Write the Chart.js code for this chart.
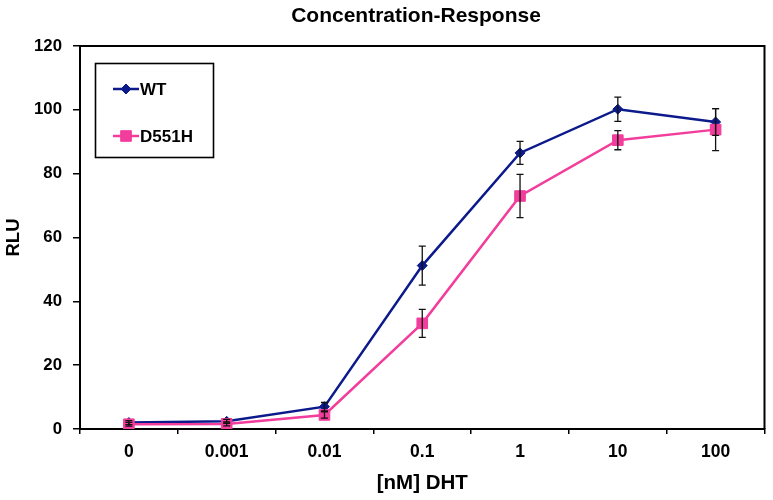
<!DOCTYPE html>
<html>
<head>
<meta charset="utf-8">
<script src="https://cdn.jsdelivr.net/npm/chart.js@4.4.1/dist/chart.umd.min.js"></script>
<style>
html,body{margin:0;padding:0;background:#fff;}
#wrap{width:773px;height:500px;position:relative;}
</style>
</head>
<body>
<div id="wrap"><canvas id="c" width="773" height="500"></canvas></div>
<script>
const categories = ['0', '0.001', '0.01', '0.1', '1', '10', '100'];
const wtValues = [2.0, 2.4, 7.0, 51.2, 86.5, 100.2, 96.2];
const wtErrors = [0.6, 0.6, 1.3, 6.1, 3.6, 3.8, 4.2];
const d551hValues = [1.5, 1.6, 4.4, 33.1, 73.0, 90.5, 93.8];
const d551hErrors = [0.6, 0.6, 1.0, 4.4, 6.8, 3.0, 6.6];
const yTicks = [0, 20, 40, 60, 80, 100, 120];
const chartTitle = 'Concentration-Response';

const FONT = 'Liberation Sans, Arial, Helvetica, sans-serif';
const WT_COLOR = '#0c1a8c';
const MUT_COLOR = '#f23d9c';

const errorBars = {
  id: 'errorBars',
  afterDatasetsDraw(chart) {
    const ctx = chart.ctx;
    const y = chart.scales.y;
    ctx.save();
    ctx.strokeStyle = '#111';
    ctx.lineWidth = 1.3;
    chart.data.datasets.forEach((ds, i) => {
      const meta = chart.getDatasetMeta(i);
      meta.data.forEach((pt, j) => {
        const v = ds.data[j], e = ds.errors[j];
        const x = pt.x;
        const yt = y.getPixelForValue(v + e);
        const yb = y.getPixelForValue(v - e);
        ctx.beginPath();
        ctx.moveTo(x, yt); ctx.lineTo(x, yb);
        ctx.moveTo(x - 3.5, yt); ctx.lineTo(x + 3.5, yt);
        ctx.moveTo(x - 3.5, yb); ctx.lineTo(x + 3.5, yb);
        ctx.stroke();
      });
    });
    ctx.restore();
  }
};

const frameAndLegend = {
  id: 'frameAndLegend',
  afterDraw(chart) {
    const ctx = chart.ctx;
    const a = chart.chartArea;
    ctx.save();
    // title
    ctx.fillStyle = '#000';
    ctx.font = 'bold 21px ' + FONT;
    ctx.textAlign = 'center';
    ctx.textBaseline = 'alphabetic';
    ctx.fillText(chartTitle, 416, 22);
    // frame
    ctx.strokeStyle = '#000';
    ctx.lineWidth = 2;
    ctx.beginPath();
    ctx.moveTo(a.left, a.top); ctx.lineTo(a.right, a.top); ctx.lineTo(a.right, a.bottom);
    ctx.stroke();
    // legend box
    ctx.lineWidth = 1.6;
    ctx.strokeRect(95.5, 63.5, 118, 94);
    const entries = [
      {ds: chart.data.datasets[0], y: 89},
      {ds: chart.data.datasets[1], y: 136}
    ];
    entries.forEach(en => {
      const ds = en.ds;
      ctx.strokeStyle = ds.borderColor;
      ctx.lineWidth = 2.5;
      ctx.beginPath();
      ctx.moveTo(113, en.y); ctx.lineTo(139, en.y);
      ctx.stroke();
      ctx.fillStyle = ds.pointBackgroundColor;
      ctx.strokeStyle = ds.pointBorderColor;
      ctx.lineWidth = 1;
      Chart.helpers.drawPoint(ctx, {pointStyle: ds.pointStyle, radius: ds.pointRadius, borderWidth: 1}, 126, en.y);
      ctx.fillStyle = '#000';
      ctx.font = 'bold 17px ' + FONT;
      ctx.textAlign = 'left';
      ctx.textBaseline = 'middle';
      ctx.fillText(ds.label, 140, en.y + 1);
    });
    ctx.restore();
  }
};

new Chart(document.getElementById('c'), {
  type: 'line',
  data: {
    labels: categories,
    datasets: [
      {
        label: 'WT', data: wtValues, errors: wtErrors,
        borderColor: WT_COLOR, backgroundColor: WT_COLOR,
        pointBackgroundColor: WT_COLOR, pointBorderColor: WT_COLOR,
        pointStyle: 'rectRot', pointRadius: 5, pointBorderWidth: 1,
        borderWidth: 2.5, tension: 0, order: 1
      },
      {
        label: 'D551H', data: d551hValues, errors: d551hErrors,
        borderColor: MUT_COLOR, backgroundColor: MUT_COLOR,
        pointBackgroundColor: MUT_COLOR, pointBorderColor: MUT_COLOR,
        pointStyle: 'rect', pointRadius: 7.5, pointBorderWidth: 1,
        borderWidth: 2.5, tension: 0, order: 0
      }
    ]
  },
  options: {
    responsive: false,
    animation: false,
    layout: {padding: {left: 0, right: 7, top: 46, bottom: 0}},
    plugins: {
      legend: {display: false},
      tooltip: {enabled: false},
      title: {display: false}
    },
    scales: {
      x: {
        type: 'category', offset: true,
        grid: {offset: true, drawOnChartArea: false, drawTicks: true, tickLength: 5, color: '#000', lineWidth: 1.5},
        border: {color: '#000', width: 2},
        ticks: {color: '#000', font: {family: FONT, size: 17.5, weight: 'bold'}, padding: 8, maxRotation: 0},
        title: {display: true, text: '[nM] DHT', color: '#000', font: {family: FONT, size: 20.5, weight: 'bold'}, padding: {top: 0, bottom: 4}},
        afterFit(s) { s.height = 71; }
      },
      y: {
        min: 0, max: 120,
        afterBuildTicks(s) { s.ticks = yTicks.map(v => ({value: v})); },
        grid: {drawOnChartArea: false, drawTicks: true, tickLength: 7, color: '#000', lineWidth: 1.5},
        border: {color: '#000', width: 2},
        ticks: {color: '#000', font: {family: FONT, size: 16.8, weight: 'bold'}, padding: 11},
        title: {display: true, text: 'RLU', color: '#000', font: {family: FONT, size: 18.5, weight: 'bold'}, padding: {top: 3, bottom: 0}},
        afterFit(s) { s.width = 80; }
      }
    }
  },
  plugins: [errorBars, frameAndLegend]
});
</script>
</body>
</html>
